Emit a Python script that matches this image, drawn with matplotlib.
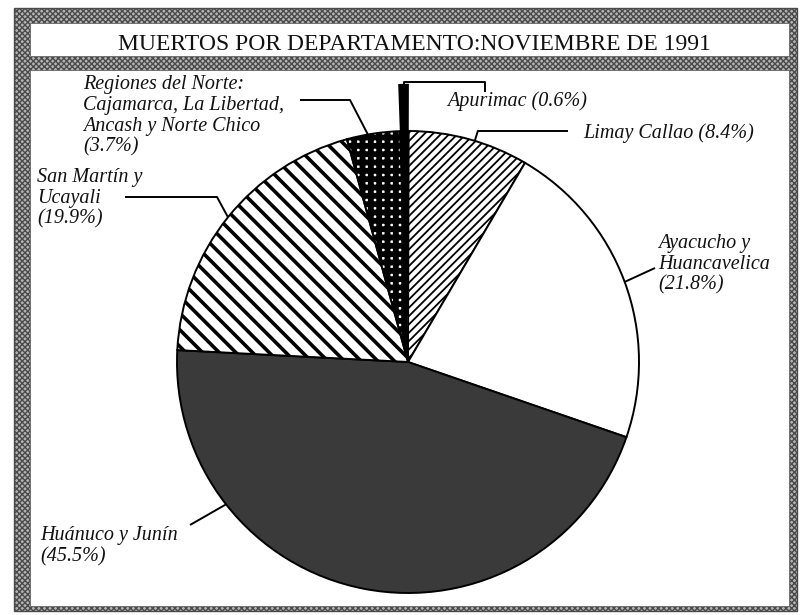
import matplotlib
matplotlib.use("Agg")
import matplotlib.pyplot as plt
import numpy as np
from matplotlib.patches import Rectangle

# ---------------- data ----------------
title = "MUERTOS POR DEPARTAMENTO:NOVIEMBRE DE 1991"
names = ["Apurimac", "Limay Callao", "Ayacucho y\nHuancavelica",
         "Huánuco y Junín", "San Martín y\nUcayali",
         "Regiones del Norte:\nCajamarca, La Libertad,\nAncash y Norte Chico"]
values = [0.6, 8.4, 21.8, 45.5, 19.9, 3.7]

# ---------------- style ----------------
W, H = 800, 615
def Y(y):  # image-pixel y (top-down) -> data y
    return H - y

fig = plt.figure(figsize=(8.0, 6.15), dpi=100)
fig.patch.set_facecolor("white")
ax = fig.add_axes([0, 0, 1, 1])

# frame
band = "#b4b4b4"
ax.add_patch(Rectangle((14, Y(611)), 783, 603, facecolor=band, edgecolor="#4a4a4a",
                       hatch="xxxxxx", lw=1.0, zorder=0))
ax.add_patch(Rectangle((30, Y(56)), 759, 33, facecolor="white", edgecolor="#666666", lw=0.6, zorder=1))
ax.add_patch(Rectangle((30, Y(606)), 759, 536, facecolor="white", edgecolor="#666666", lw=0.6, zorder=1))

ax.text(414, Y(45), title, ha="center", va="center", fontsize=17,
        family="Liberation Serif", color="#111111", zorder=5)

cx, cy, r = 408, Y(362), 231
explode_frac = [0.2, 0, 0, 0, 0, 0]
faces = ["black", "white", "white", "#3a3a3a", "white", "white"]
hatches = [None, "////", None, None, "\\\\", "++"]
hatch_lw = [1, 1.3, 1, 1, 2.6, 4.2]

wedges, _ = ax.pie(values, radius=r, center=(cx, cy), startangle=92, counterclock=False,
                   explode=[e * r for e in explode_frac], colors=faces,
                   wedgeprops=dict(edgecolor="black", linewidth=1.4))
for w, h, hl in zip(wedges, hatches, hatch_lw):
    w.set_zorder(2)
    if h:
        w.set_hatch(h)
        if hasattr(w, "set_hatch_linewidth"):
            w.set_hatch_linewidth(hl)

ax.set_xlim(0, W)
ax.set_ylim(0, H)
ax.set_aspect("equal")
ax.axis("off")

def arc_point(w, f, rad=r):
    a = np.deg2rad(w.theta1 + f * (w.theta2 - w.theta1))
    c = w.center
    return c[0] + rad * np.cos(a), c[1] + rad * np.sin(a)

tfont = dict(family="Liberation Serif", style="italic", fontsize=14.5, color="#111111",
             linespacing=1.13, zorder=5)
lk = dict(color="black", lw=1.4, zorder=4, solid_capstyle="butt")

def label(i, x, ytop, sep):
    ax.text(x, Y(ytop), f"{names[i]}{sep}({values[i]}%)", ha="left", va="top", **tfont)

# Apurimac
label(0, 447, 91, " ")
px, py = arc_point(wedges[0], 0.5)
ax.plot([px, px, 485, 485], [py, Y(82), Y(82), Y(92)], **lk)
# Limay Callao
label(1, 583, 123, " ")
px, py = arc_point(wedges[1], 0.45)
ax.plot([px, px + 3, 568], [py, Y(131), Y(131)], **lk)
# Ayacucho
label(2, 658, 234, "\n")
px, py = arc_point(wedges[2], 0.5)
ax.plot([px, 655], [py, Y(268)], **lk)
# Huanuco
label(3, 40, 526, "\n")
px, py = arc_point(wedges[3], 0.25)
ax.plot([px, 190], [py, Y(525)], **lk)
# San Martin
label(4, 37, 168, "\n")
px, py = arc_point(wedges[4], 0.5)
ax.plot([px, 217, 125], [py, Y(197), Y(197)], **lk)
# Norte
label(5, 83, 75, "\n")
px, py = arc_point(wedges[5], 0.6)
ax.plot([px, 350, 300], [py, Y(100), Y(100)], **lk)

fig.savefig("out.png", dpi=100, facecolor="white")
